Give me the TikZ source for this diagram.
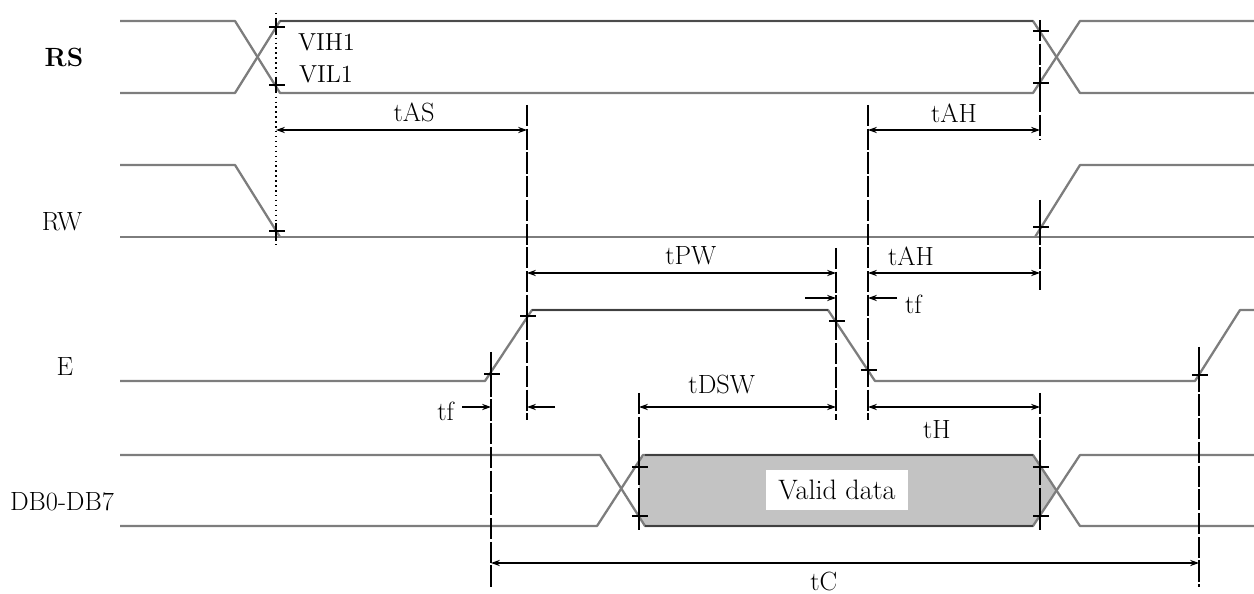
\documentclass[tikz,border=0pt]{standalone}
\usetikzlibrary{arrows.meta}
\definecolor{siggray}{RGB}{125,125,125}
\definecolor{datagray}{RGB}{195,195,195}
\newcommand\tickmark[1]{\draw[black,line width=0.8pt] (#1) ++(-7,0) -- ++(16,0) (#1) ++(0,-8) -- ++(0,16);}
\begin{document}
\begin{tikzpicture}[x=0.02cm,y=-0.02cm,
  sig/.style={siggray,line width=1.3pt,line join=round},
  guide/.style={black,line width=0.8pt,dash pattern=on 12pt off 1.5pt},
  dim/.style={black,line width=0.8pt,{Stealth[length=5pt,width=3.5pt]}-{Stealth[length=5pt,width=3.5pt]}},
  half/.style={black,line width=0.8pt,-{Stealth[length=5pt,width=3.5pt]}},
  lbl/.style={font=\fontsize{15}{17}\selectfont,inner sep=1pt}]
\useasboundingbox (0,0) rectangle (1254,594);
% signal names
\node[lbl,font=\fontsize{15}{17}\selectfont\bfseries] (rs) at (64,57) {RS};
\node[lbl] (rw) at (62,222) {RW};
\node[lbl] (en) at (65,367) {E};
\node[lbl] (db) at (62,502) {DB0-DB7};
% time marks
\coordinate (xa) at (276,0);
\coordinate (xb) at (491,0);
\coordinate (xc) at (527,0);
\coordinate (xd) at (639,0);
\coordinate (xe) at (836,0);
\coordinate (xf) at (868,0);
\coordinate (xg) at (1040,0);
\coordinate (xh) at (1199,0);
% valid data
\fill[datagray] (639,462) -- (645,455) -- (1033,455) -- (1057,490) -- (1033,526) -- (645,526) -- (639,517) -- cycle;
% signals
\draw[sig] (120,21) -- (235,21) -- (280,93) -- (1033,93) -- (1080,21) -- (1254,21);
\draw[sig] (120,93) -- (235,93) -- (280,21) -- (1033,21) -- (1080,93) -- (1254,93);
\draw[black!70,line width=1.3pt] (280,21) -- (1033,21);
\draw[sig] (120,165) -- (235,165) -- (280,237);
\draw[sig] (120,237) -- (1254,237);
\draw[sig] (1035,237) -- (1080,165) -- (1254,165);
\draw[sig] (120,381) -- (485,381) -- (532,310) -- (828,310) -- (875,381) -- (1195,381) -- (1240,310) -- (1254,310);
\draw[black!75,line width=1.3pt] (532,310) -- (828,310);
\draw[sig] (120,455) -- (600,455) -- (645,526) -- (1033,526) -- (1080,455) -- (1254,455);
\draw[sig] (120,526) -- (597,526) -- (643,455) -- (1033,455) -- (1080,526) -- (1254,526);
\draw[black!75,line width=1.3pt] (645,455) -- (1033,455) (645,526) -- (1033,526);
\node[lbl,font=\fontsize{16}{18}\selectfont,fill=white,minimum width=2.84cm,minimum height=0.8cm] (valid) at (837,490) {Valid data};
\node[lbl,font=\fontsize{14}{16}\selectfont,anchor=west] (vih) at (296,42) {VIH1};
\node[lbl,font=\fontsize{14}{16}\selectfont,anchor=west] (vil) at (297,74) {VIL1};
% guides
\draw[black,line width=0.8pt,dotted] (xa |- 0,13) -- (xa |- 0,245);
\draw[guide] (xc |- 0,105) -- (xc |- 0,420);
\draw[guide] (xf |- 0,105) -- (xf |- 0,420);
\draw[guide] (xe |- 0,248) -- (xe |- 0,420);
\draw[guide] (xg |- 0,20) -- (xg |- 0,140);
\draw[guide] (xg |- 0,200) -- (xg |- 0,290);
\draw[guide] (xg |- 0,393) -- (xg |- 0,530);
\draw[guide] (xd |- 0,393) -- (xd |- 0,530);
\draw[guide] (xb |- 0,352) -- (xb |- 0,587);
\draw[guide] (xh |- 0,347) -- (xh |- 0,587);
% ticks
\tickmark{276,27} \tickmark{276,85} \tickmark{1040,31} \tickmark{1040,83}
\tickmark{276,231} \tickmark{1040,227}
\tickmark{491,374} \tickmark{527,316} \tickmark{836,321} \tickmark{868,370} \tickmark{1199,375}
\tickmark{639,467} \tickmark{639,516} \tickmark{1040,467} \tickmark{1040,516}
% timing arrows
\draw[dim] (xa |- 0,130) -- (xc |- 0,130) node[lbl,pos=0.55,above=3pt] (tas) {tAS};
\draw[dim] (xf |- 0,130) -- (xg |- 0,130) node[lbl,midway,above=3pt] (tah) {tAH};
\draw[dim] (xc |- 0,273) -- (xe |- 0,273) node[lbl,pos=0.53,above=3pt] (tpw) {tPW};
\draw[dim] (xf |- 0,273) -- (xg |- 0,273) node[lbl,pos=0.25,above=3pt] (tahb) {tAH};
\coordinate (fa) at (805,298);
\coordinate (fb) at (897,298);
\draw[half] (fa) -- (xe |- fa);
\draw[half] (fb) -- (xf |- fb);
\node[lbl,anchor=west] (tfa) at (903,304) {tf};
\coordinate (fc) at (462,407);
\coordinate (fd) at (555,407);
\draw[half] (fc) -- (xb |- fc);
\draw[half] (fd) -- (xc |- fd);
\node[lbl,anchor=east] (tfb) at (456,411) {tf};
\draw[dim] (xd |- 0,407) -- (xe |- 0,407) node[lbl,pos=0.42,above=6pt] (tdsw) {tDSW};
\draw[dim] (xf |- 0,407) -- (xg |- 0,407) node[lbl,pos=0.4,below=6pt] (th) {tH};
\draw[dim] (xb |- 0,563) -- (xh |- 0,563) node[lbl,pos=0.47,below=4pt] (tc) {tC};
\end{tikzpicture}
\end{document}
